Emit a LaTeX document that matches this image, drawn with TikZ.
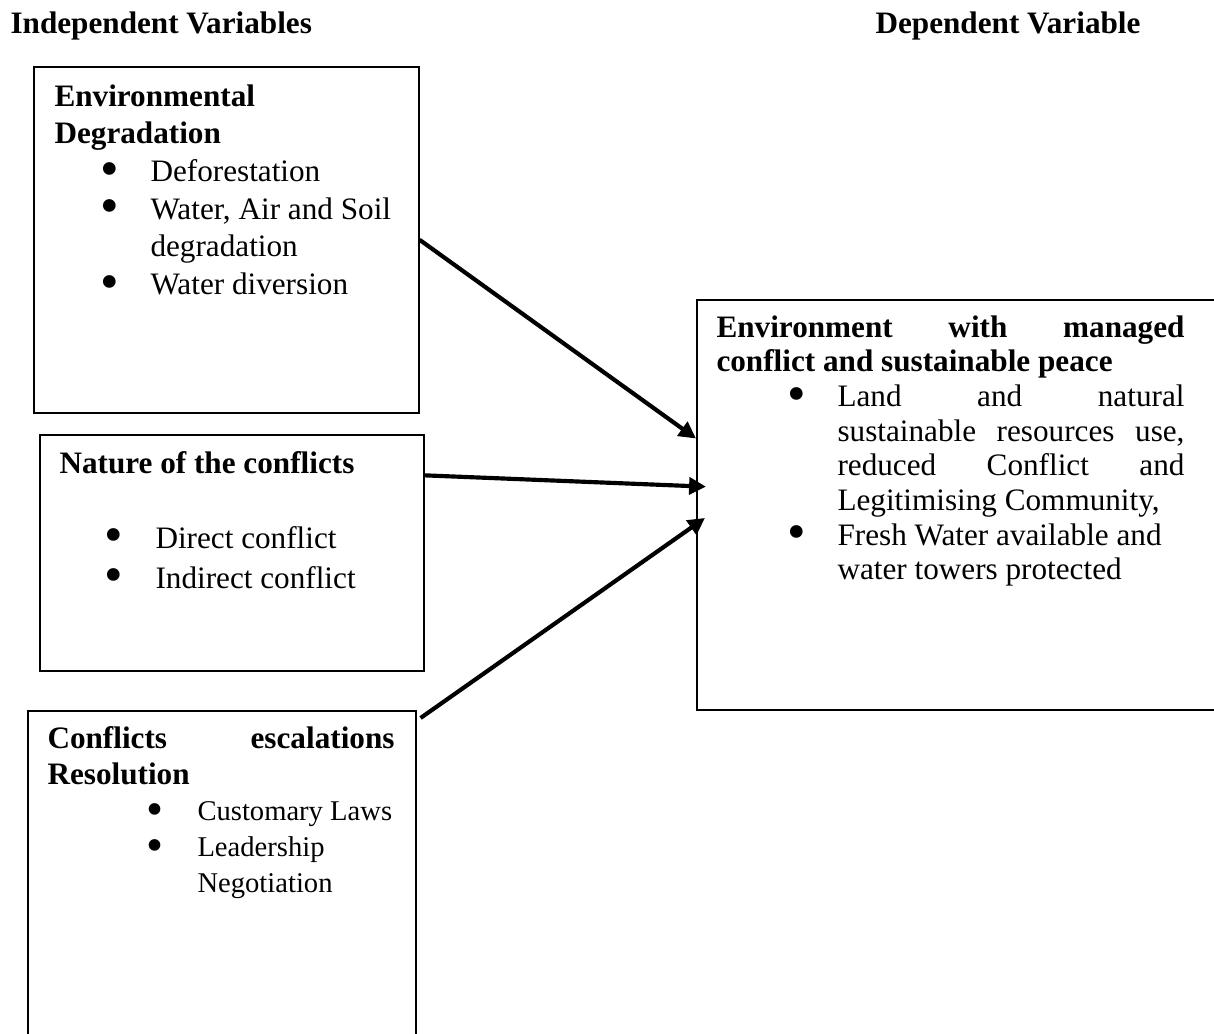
\documentclass[tikz,border=0pt]{standalone}
\usepackage{fontspec}
\setmainfont{Liberation Serif}
\usetikzlibrary{positioning,calc,arrows.meta}

\newlength\unitpx
\setlength\unitpx{0.3846pt}
\hbadness=10000
% bullet item: #1 bullet centre, #2 text indent (in px)
\newcommand\bitem[2]{\par\noindent\hangindent=#2\unitpx\hangafter=1\makebox[#2\unitpx][l]{\hspace*{#1\unitpx}\makebox[0pt]{\smash{\raisebox{-1.8pt}{\scalebox{1.7}{\textbullet}}}}}}

\begin{document}
\begin{tikzpicture}[x=0.3846pt, y=-0.3846pt, >={Triangle[length=6.5pt,width=6.5pt]},
	box/.style={draw, line width=0.6pt, anchor=north west, inner sep=0pt},
	txt/.style={anchor=base west, inner sep=0pt, align=justify, font={\fontsize{12}{#1}\selectfont}},
	head/.style={anchor=base west, inner sep=0pt, font={\fontsize{12}{14}\selectfont\bfseries}},
	link/.style={->, line width=1.6pt}]
		\useasboundingbox (0,0) rectangle (1214,1034);
		\clip (0,0) rectangle (1214,1034);
		
		\node [head] (indep) at (10,33) {Independent Variables};
		\node [head] (dep) at (875,33) {Dependent Variable};
		
		\node [box, minimum width=385\unitpx, minimum height=346\unitpx] (envbox) at (33,66) {};
		\node [box, minimum width=384\unitpx, minimum height=236\unitpx] (natbox) at (39,434) {};
		\node [box, minimum width=388\unitpx, minimum height=360\unitpx] (escbox) at (27,710) {};
		\node [box, minimum width=544\unitpx, minimum height=410\unitpx] (depbox) at (696,299) {};
		
		\node [txt=14.5pt, text width=346\unitpx] (envtxt) at (54,106)
		{\textbf{Environmental\\Degradation}\bitem{55}{96}Deforestation\bitem{55}{96}Water, Air and Soil\\degradation\bitem{55}{96}Water diversion\par};
		
		\node [txt=15.4pt, text width=346\unitpx] (nattxt) at (59,473)
		{\textbf{Nature of the conflicts}\par\vspace{13.5pt}\bitem{54}{96}Direct conflict\bitem{54}{96}Indirect conflict\par};
		
		\node [txt=14.2pt, text width=347\unitpx] (esctxt) at (47,748)
		{\textbf{Conflicts escalations\linebreak Resolution}\par\fontsize{11}{13.85}\selectfont\bitem{107}{150}Customary Laws\bitem{107}{150}Leadership\\Negotiation\par};
		
		\node [txt=13.35pt, text width=468\unitpx] (deptxt) at (716,337)
		{\textbf{Environment with managed\linebreak conflict and sustainable peace}\bitem{80}{121}Land and natural\linebreak sustainable resources use,\linebreak reduced Conflict and\linebreak Legitimising Community,\bitem{80}{121}Fresh Water available and\\water towers protected\par};
		
		\coordinate (natout) at ($(natbox.north east)!0.174!(natbox.south east)$);
		\coordinate (escout) at ($(escbox.north east)+(4,8)$);
		\coordinate (in-1) at ($(depbox.north west)!0.339!(depbox.south west)$);
		\coordinate (in-2) at ($(depbox.north west)!0.456!(depbox.south west)+(10,0)$);
		\coordinate (in-3) at ($(depbox.north west)!0.532!(depbox.south west)+(9,0)$);
		
		\foreach \a/\b in {envbox.east/in-1, natout/in-2, escout/in-3}
		\draw [link] (\a) -- (\b);
		
	\end{tikzpicture}
\end{document}
